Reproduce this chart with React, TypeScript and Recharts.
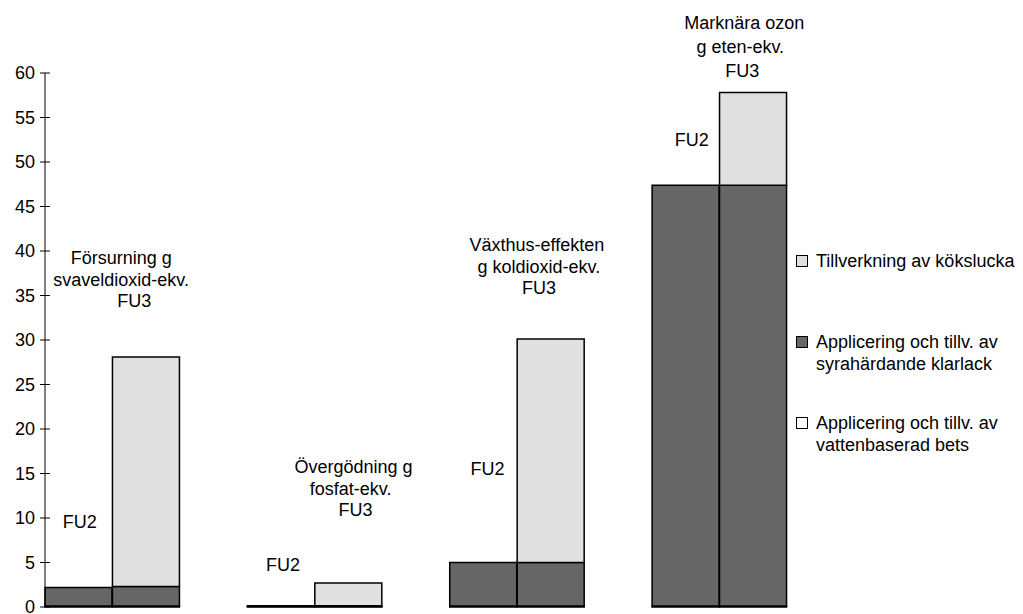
import { BarChart, Bar, XAxis, YAxis, ReferenceDot } from 'recharts';

// 11 slots: FU2, FU3, gap, ... (gaps keep the groups apart)
const categories = [
  'Försurning FU2', 'Försurning FU3', 'gap1',
  'Övergödning FU2', 'Övergödning FU3', 'gap2',
  'Växthus FU2', 'Växthus FU3', 'gap3',
  'Ozon FU2', 'Ozon FU3',
];
const betsValues = [0.1, 0.1, null, 0.05, 0.05, null, 0.1, 0.1, null, 0.1, 0.1];
const klarlackValues = [2.1, 2.2, null, 0.1, 0.1, null, 4.9, 4.9, null, 47.3, 47.3];
const tillverkningValues = [null, 25.8, null, null, 2.55, null, null, 25.1, null, null, 10.4];
const yTicks = [0, 5, 10, 15, 20, 25, 30, 35, 40, 45, 50, 55, 60];

const seriesNames = [
  'Tillverkning av kökslucka',
  'Applicering och tillv. av syrahärdande klarlack',
  'Applicering och tillv. av vattenbaserad bets',
];
const legendLines = [
  ['Tillverkning av kökslucka'],
  ['Applicering och tillv. av', 'syrahärdande klarlack'],
  ['Applicering och tillv. av', 'vattenbaserad bets'],
];
const colors = ['#e0e0e0', '#666666', '#ffffff'];

// text boxes in the plot: anchor category, y value, text, horizontal nudge
const annotations = [
  { cat: 'Försurning FU3', y: 39.25, text: 'Försurning g', dx: -25 },
  { cat: 'Försurning FU3', y: 36.8, text: 'svaveldioxid-ekv.', dx: -25 },
  { cat: 'Försurning FU3', y: 34.4, text: 'FU3', dx: -12 },
  { cat: 'Försurning FU2', y: 9.6, text: 'FU2', dx: 1 },
  { cat: 'Övergödning FU3', y: 15.8, text: 'Övergödning g', dx: 5 },
  { cat: 'Övergödning FU3', y: 13.3, text: 'fosfat-ekv.', dx: 2 },
  { cat: 'Övergödning FU3', y: 10.9, text: 'FU3', dx: 7 },
  { cat: 'Övergödning FU2', y: 4.8, text: 'FU2', dx: 2 },
  { cat: 'Växthus FU3', y: 40.7, text: 'Växthus-effekten', dx: -14 },
  { cat: 'Växthus FU3', y: 38.2, text: 'g koldioxid-ekv.', dx: -12 },
  { cat: 'Växthus FU3', y: 35.9, text: 'FU3', dx: -12 },
  { cat: 'Växthus FU2', y: 15.5, text: 'FU2', dx: 4 },
  { cat: 'Ozon FU3', y: 65.6, text: 'Marknära ozon', dx: -9 },
  { cat: 'Ozon FU3', y: 63.0, text: 'g eten-ekv.', dx: -13 },
  { cat: 'Ozon FU3', y: 60.3, text: 'FU3', dx: -11 },
  { cat: 'Ozon FU2', y: 52.5, text: 'FU2', dx: 6 },
];

const data = categories.map((name, i) => ({
  name,
  bets: betsValues[i],
  klarlack: klarlackValues[i],
  tillverkning: tillverkningValues[i],
}));

const FONT = '"Liberation Sans", Arial, sans-serif';

const YTick = (props: any) => {
  const { x, y, payload } = props;
  const ax = x + 9; // tickSize 5 + tickMargin 4
  return (
    <g>
      <line x1={ax - 5} x2={ax + 5} y1={y} y2={y} stroke="#000" />
      <text x={ax - 10} y={y} dy="0.35em" textAnchor="end" fontSize={18} fill="#000" fontFamily={FONT}>
        {payload.value}
      </text>
    </g>
  );
};

export default function App() {
  return (
    <div style={{ position: 'absolute', left: 0, top: 0, width: 1023, height: 614, background: '#fff', fontFamily: FONT }}>
      <BarChart
        width={1023}
        height={614}
        data={data}
        margin={{ top: 73, right: 236, bottom: 7, left: 0 }}
        barCategoryGap={0}
        barGap={0}
      >
        <XAxis dataKey="name" tick={false} tickLine={false} height={0} axisLine={{ stroke: '#000' }} />
        <YAxis
          domain={[0, 60]}
          ticks={yTicks}
          width={45}
          tickLine={false}
          tickSize={5}
          tickMargin={4}
          axisLine={{ stroke: '#000' }}
          tick={<YTick />}
          interval={0}
        />
        <Bar dataKey="bets" stackId="a" name={seriesNames[2]} fill={colors[2]} stroke="#000" strokeWidth={1.5} isAnimationActive={false} />
        <Bar dataKey="klarlack" stackId="a" name={seriesNames[1]} fill={colors[1]} stroke="#000" strokeWidth={1.5} isAnimationActive={false} />
        <Bar dataKey="tillverkning" stackId="a" name={seriesNames[0]} fill={colors[0]} stroke="#000" strokeWidth={1.5} isAnimationActive={false} />
        {annotations.map((a, i) => (
          <ReferenceDot
            key={i}
            x={a.cat}
            y={a.y}
            r={0}
            ifOverflow="visible"
            shape={(p: any) => (
              <text x={p.cx + a.dx} y={p.cy} dy="0.35em" textAnchor="middle" fontSize={18} fill="#000" fontFamily={FONT}>
                {a.text}
              </text>
            )}
          />
        ))}
      </BarChart>
      <div style={{ position: 'absolute', left: 796, top: 250, width: 227 }}>
        {legendLines.map((lines, i) => (
          <div key={i} style={{ position: 'absolute', top: i * 81, left: 0, display: 'flex', alignItems: 'flex-start' }}>
            <div style={{ width: 10, height: 10, border: '1px solid #000', background: colors[i], marginTop: 5, marginRight: 8, flexShrink: 0 }} />
            <div style={{ fontSize: 18, lineHeight: '22px', color: '#000', whiteSpace: 'nowrap' }}>
              {lines.map((l, j) => (
                <div key={j}>{l}</div>
              ))}
            </div>
          </div>
        ))}
      </div>
    </div>
  );
}
